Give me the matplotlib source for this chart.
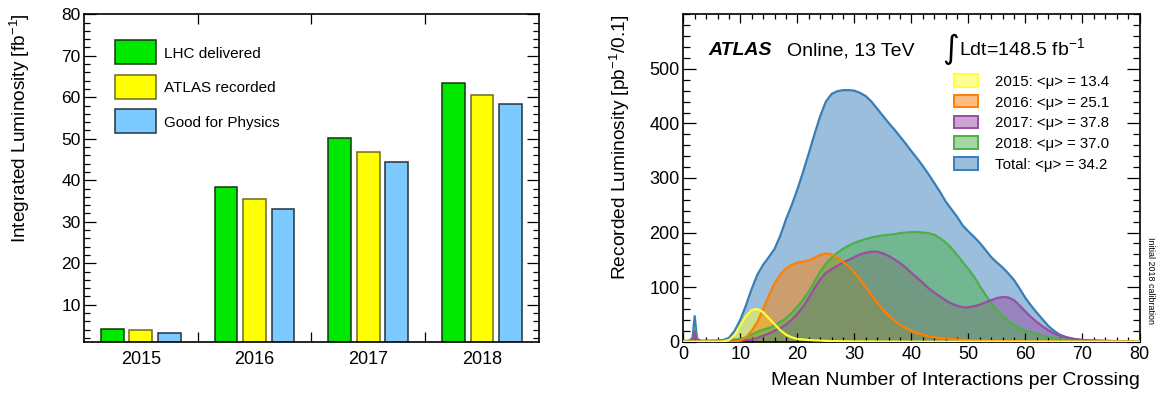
import matplotlib
matplotlib.use("Agg")
import matplotlib.pyplot as plt
from matplotlib.patches import Rectangle
from matplotlib.ticker import MultipleLocator, FixedLocator

plt.rcParams['font.family'] = ['Liberation Sans', 'DejaVu Sans']
plt.rcParams['mathtext.fontset'] = 'custom'
plt.rcParams['mathtext.rm'] = 'Liberation Sans'
plt.rcParams['mathtext.it'] = 'Liberation Sans:italic'
plt.rcParams['mathtext.bf'] = 'Liberation Sans:bold'

# ---------------- data: left panel ----------------
years = ["2015", "2016", "2017", "2018"]
lhc_delivered = [4.2, 38.5, 50.2, 63.4]
atlas_recorded = [3.9, 35.6, 46.9, 60.6]
good_for_physics = [3.2, 33.0, 44.3, 58.5]
bar_labels = ["LHC delivered", "ATLAS recorded", "Good for Physics"]

# ---------------- data: right panel ----------------
mu = [0, 1, 1.6, 2, 2.4, 3] + list(range(4, 73)) + [74, 76, 78, 80]

lumi_total = [1, 2, 6, 47, 6, 2,
              2, 2, 2, 3, 7, 20, 40, 67, 97, 123, 141, 155, 170, 194, 224, 250, 279, 311, 345, 380, 413,
              440, 454, 459, 461, 461, 460, 456, 450, 440, 427, 414, 401, 389, 376, 363, 349, 336, 322,
              307, 291, 275, 257, 243, 229, 213, 202, 192, 181, 168, 155, 145, 136, 125, 113, 97, 80,
              66, 53, 41, 29, 20, 13, 9, 6, 4, 3, 2.5, 2,
              1.5, 1, 0.5, 0]
lumi_2018 = [0, 0, 2, 26, 2, 1,
             1, 1, 2, 2, 3, 4, 5, 8, 13, 18, 22, 25, 30, 36, 43, 53, 64, 77, 92, 110, 128,
             143, 154, 163, 170, 176, 181, 185, 188, 191, 193, 195, 196, 197, 199, 200, 201, 201, 200,
             199, 196, 190, 182, 172, 159, 146, 133, 119, 102, 86, 71, 58, 47, 38, 31, 25, 20,
             17, 14, 11, 9, 7, 5, 4, 3, 2.5, 2, 1.5, 1.2,
             1, 0.5, 0.3, 0]
lumi_2017 = [0, 0, 1, 20, 1, 0,
             0, 0, 0, 0.5, 1, 1, 2, 3, 4, 7, 11, 15, 20, 25, 31, 40, 51, 64, 80, 98, 114,
             126, 133, 139, 145, 150, 155, 160, 163, 165, 165, 162, 157, 151, 144, 136, 126, 117, 108,
             98, 90, 83, 76, 70, 66, 63, 63, 65, 68, 72, 76, 80, 82, 81, 76, 66, 55,
             45, 36, 28, 21, 15, 11, 8, 6, 4.5, 3, 2.5, 2,
             1.5, 1, 0.5, 0]
lumi_2016 = [0, 0, 0, 0, 0, 0,
             0, 0, 0, 0, 0, 0.5, 2, 8, 20, 36, 60, 84, 107, 123, 134, 141, 145, 147, 149, 154, 159,
             162, 160, 154, 146, 138, 127, 114, 100, 86, 72, 59, 48, 39, 31, 25, 20, 16, 13,
             10, 8, 7, 6, 5, 4, 3.5, 3, 2.5, 2, 2, 1.5, 1.5, 1, 1, 1, 0.8, 0.6,
             0.5, 0.5, 0.4, 0.3, 0.3, 0.2, 0.2, 0.1, 0.1, 0.1, 0, 0,
             0, 0, 0, 0]
lumi_2015 = [0, 0, 0, 0, 0, 0,
             0, 0, 0, 0.5, 3, 12, 30, 47, 58, 60, 54, 43, 32, 21, 13, 8, 5, 4, 3, 2.5, 2,
             1.5, 1, 1, 0.8, 0.6, 0.5, 0.4, 0.3, 0.3, 0.2, 0.2, 0.1, 0.1, 0.1, 0, 0, 0, 0,
             0, 0, 0, 0, 0, 0, 0, 0, 0, 0, 0, 0, 0, 0, 0, 0, 0, 0,
             0, 0, 0, 0, 0, 0, 0, 0, 0, 0, 0, 0,
             0, 0, 0, 0]
series_labels = ["2015: <\u03bc> = 13.4", "2016: <\u03bc> = 25.1", "2017: <\u03bc> = 37.8",
                 "2018: <\u03bc> = 37.0", "Total: <\u03bc> = 34.2"]

W, H = 1162, 398
fig = plt.figure(figsize=(W / 100, H / 100), dpi=100)


def fx(x):
    return x / W


def fy(y):
    return 1 - y / H


top_px, bot_px = 14.3, 341.7
ax1 = fig.add_axes([fx(84), fy(bot_px), (538.8 - 84) / W, (bot_px - top_px) / H])
ax2 = fig.add_axes([fx(683.3), fy(bot_px), (1139.5 - 683.3) / W, (bot_px - top_px) / H])

# ---------------- left panel ----------------
bar_colors = ['#00e800', '#ffff00', '#7ccaff']
edge_colors = ['#123812', '#6e6a22', '#24323e']
x_idx = list(range(len(years)))
width = 0.2
for k, (vals, c, ec) in enumerate(zip([lhc_delivered, atlas_recorded, good_for_physics],
                                      bar_colors, edge_colors)):
    ax1.bar([i + (k - 1) * 0.25 for i in x_idx], vals, width=width, color=c,
            edgecolor=ec, linewidth=1.1, zorder=2)
ax1.set_xlim(-0.5, 3.5)
ax1.set_ylim(1.1, 80)
ax1.set_xticks([0.5, 1.5, 2.5])
ax1.set_xticklabels([])
ax1.set_xticks(x_idx, minor=True)
ax1.set_xticklabels(years, minor=True, fontsize=13)
ax1.tick_params(axis='x', which='major', direction='in', top=True, bottom=True,
                length=7.2, width=0.9)
ax1.tick_params(axis='x', which='minor', length=0, pad=7.0)
ax1.yaxis.set_major_locator(FixedLocator([10, 20, 30, 40, 50, 60, 70, 80]))
ax1.yaxis.set_minor_locator(MultipleLocator(2))
ax1.tick_params(axis='y', which='both', direction='in', left=True, right=True, width=0.9)
ax1.tick_params(axis='y', which='major', length=8.6, labelsize=12.5, pad=2.4)
ax1.tick_params(axis='y', which='minor', length=4.3)
for s in ax1.spines.values():
    s.set_linewidth(1.2)

fig.text(fx(20), fy(13.3), "Integrated Luminosity [fb$^{-1}$]", rotation=90,
         ha='center', va='top', fontsize=13.7)

# left legend
leg_rows = [(40.3, 64.3), (75, 99), (109, 133.3)]
for (y0, y1), c, ec, lab in zip(leg_rows, bar_colors, edge_colors, bar_labels):
    fig.add_artist(Rectangle((fx(115), fy(y1)), (155.7 - 115) / W, (y1 - y0) / H,
                             transform=fig.transFigure, facecolor=c, edgecolor=ec, lw=1.1))
    fig.text(fx(164), fy((y0 + y1) / 2 + 5.5), lab, ha='left', va='baseline', fontsize=11)

# ---------------- right panel ----------------
set1 = {'2015': '#ffff33', '2016': '#ff7f00', '2017': '#984ea3', '2018': '#4daf4a', 'tot': '#377eb8'}
curves = [(lumi_total, set1['tot']), (lumi_2015, set1['2015']), (lumi_2016, set1['2016']),
          (lumi_2017, set1['2017']), (lumi_2018, set1['2018'])]
for vals, c in curves:
    ax2.fill_between(mu, 0, vals, color=c, alpha=0.5, linewidth=0, zorder=1)
for vals, c in [curves[0], curves[4], curves[3], curves[2], curves[1]]:
    ax2.plot(mu, vals, color=c, lw=1.6, zorder=3, solid_joinstyle='round')

ax2.set_xlim(0, 80)
ax2.set_ylim(0, 600)
ax2.xaxis.set_major_locator(MultipleLocator(10))
ax2.xaxis.set_minor_locator(MultipleLocator(2))
ax2.yaxis.set_major_locator(FixedLocator([0, 100, 200, 300, 400, 500]))
ax2.yaxis.set_minor_locator(MultipleLocator(20))
ax2.tick_params(which='both', direction='in', top=True, right=True, width=0.9)
ax2.tick_params(axis='x', which='major', length=6.8, labelsize=13, pad=3.1)
ax2.tick_params(axis='x', which='minor', length=3.4)
ax2.tick_params(axis='y', which='major', length=9.4, labelsize=13, pad=2.8)
ax2.tick_params(axis='y', which='minor', length=4.7)
for s in ax2.spines.values():
    s.set_linewidth(1.2)

fig.text(fx(619.5), fy(15), "Recorded Luminosity [pb$^{-1}$/0.1]", rotation=90,
         ha='center', va='top', fontsize=13.8)
fig.text(fx(1139.7), fy(385), "Mean Number of Interactions per Crossing",
         ha='right', va='baseline', fontsize=14)
fig.text(fx(1151), fy(237), "Initial 2018 calibration", rotation=-90,
         ha='center', va='top', fontsize=6.4)

fig.text(fx(708), fy(55.3), "ATLAS", fontsize=14, fontweight='bold', fontstyle='italic',
         ha='left', va='baseline')
fig.text(fx(787.3), fy(55.3), "Online, 13 TeV", fontsize=14, ha='left', va='baseline')
fig.text(fx(958.5), fy(49), "\u222b", fontsize=23, ha='right', va='center',
         family=['DejaVu Sans'])
fig.text(fx(959.3), fy(55.3), "Ldt=148.5 fb$^{-1}$", fontsize=14, ha='left', va='baseline')

# right legend
rows = [(74, 86.7), (95, 107.3), (115.7, 128.3), (136, 149), (156.7, 169.7)]
leg_cols = [set1['2015'], set1['2016'], set1['2017'], set1['2018'], set1['tot']]
for (y0, y1), c, lab in zip(rows, leg_cols, series_labels):
    fig.add_artist(Rectangle((fx(954.3), fy(y1)), (978.3 - 954.3) / W, (y1 - y0) / H,
                             transform=fig.transFigure, facecolor=c, alpha=0.5, lw=0))
    fig.add_artist(Rectangle((fx(954.3), fy(y1)), (978.3 - 954.3) / W, (y1 - y0) / H,
                             transform=fig.transFigure, facecolor='none', edgecolor=c, lw=1.4))
    fig.text(fx(995), fy((y0 + y1) / 2 + 5.4), lab, ha='left', va='baseline', fontsize=10.8)

fig.savefig("out.png", dpi=100)
